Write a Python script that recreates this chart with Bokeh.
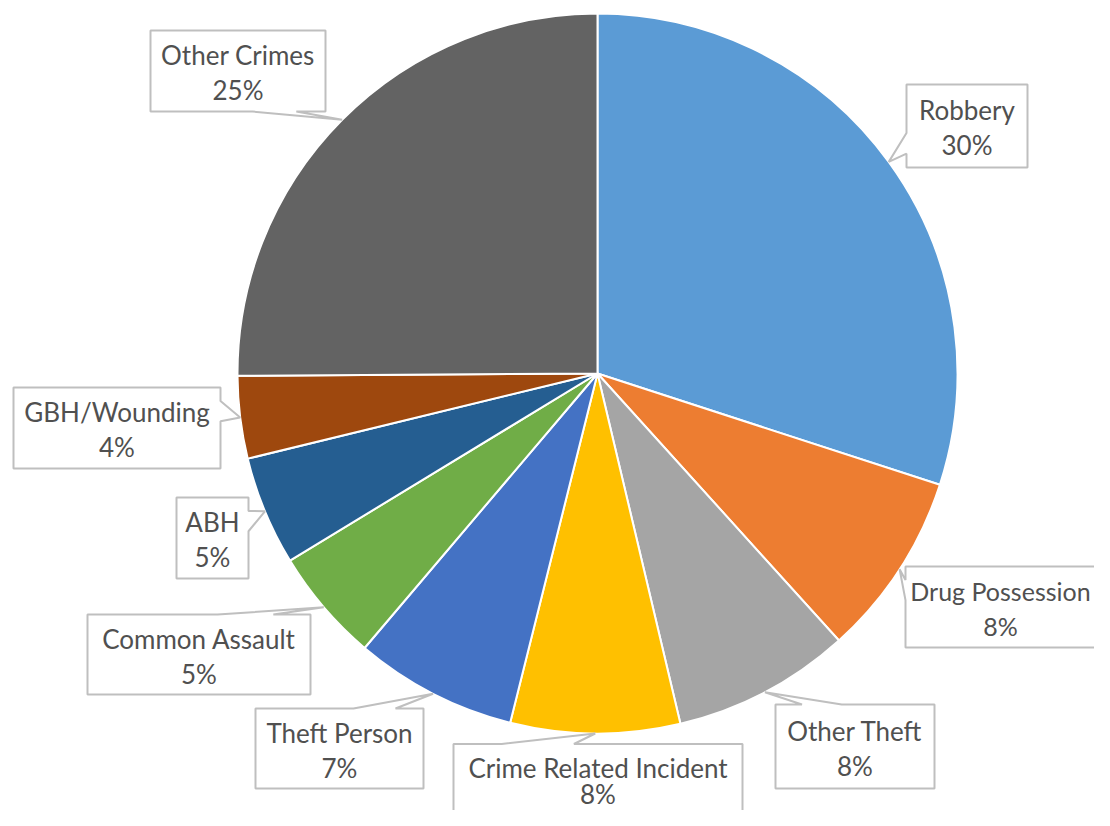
import math
from bokeh.plotting import figure
from bokeh.models import Range1d, ColumnDataSource
from bokeh.embed import file_html
from bokeh.resources import INLINE
from bokeh.core.properties import value

# ---- data ----
categories = ["Robbery", "Drug Possession", "Other Theft", "Crime Related Incident",
              "Theft Person", "Common Assault", "ABH", "GBH/Wounding", "Other Crimes"]
shares = [30.0, 8.3, 8.0, 7.6, 7.3, 5.1, 4.9, 3.7, 25.1]
colors = ["#5B9BD5", "#ED7D31", "#A5A5A5", "#FFC000", "#4472C4",
          "#70AD47", "#255E91", "#9E480E", "#636363"]

# ---- layout (picture pixels, y downward) ----
PAGE_H = 826
CX, CY, R = 597, 373, 360
# callout boxes: (center x, center y, width, height)
label_boxes = [
    (966.5, 125.5, 121, 83),
    (1016, 606.5, 222, 81),
    (854.5, 746, 159, 84),
    (597.5, 784, 289, 81),
    (339, 748, 168, 80),
    (198.5, 654, 223, 80),
    (212, 537.5, 72, 81),
    (116.5, 427.5, 207, 81),
    (237.5, 70.5, 175, 81),
]
# text centre x, and offsets of the two text lines from the box centre
text_x = [b[0] for b in label_boxes]
text_x[1] = 1000
line_offsets = [(-16, 19)] * 9
line_offsets[3] = (-17, 9)
font_sizes = ["26px"] * 9
font_sizes[1] = "25px"

FONT = "Lato"
TEXT_COLOR = "#505050"
BOX_LINE = "#BFBFBF"


def fy(py):
    return PAGE_H - py


total = sum(shares)
fracs = [s / total for s in shares]
starts, ends, mids = [], [], []
c = 0.0
for f in fracs:
    starts.append(c)
    c += f
    ends.append(c)
    mids.append(c - f / 2)

p = figure(width=1094, height=810, x_range=Range1d(0, 1094), y_range=Range1d(16, 826),
           output_backend="svg", toolbar_location=None, min_border=0,
           x_axis_location=None, y_axis_location=None,
           background_fill_color="white", border_fill_color="white")
p.grid.visible = False
p.outline_line_color = None

wedge_src = ColumnDataSource(dict(
    start=[math.pi / 2 - 2 * math.pi * s for s in starts],
    end=[math.pi / 2 - 2 * math.pi * e for e in ends],
    color=colors,
))
p.wedge(x=CX, y=fy(CY), radius=R, start_angle="start", end_angle="end",
        direction="clock", fill_color="color", line_color="white", line_width=2,
        source=wedge_src)


def callout(box, tip):
    bx, by, w, h = box
    l, r, t, b = bx - w / 2, bx + w / 2, by - h / 2, by + h / 2
    tx, ty = tip
    dx, dy = tx - bx, ty - by
    dq = dx * h / w
    dz = abs(dy) - abs(dq)
    x1 = l + w * (7 if dx > 0 else 2) / 12
    x2 = l + w * (10 if dx > 0 else 5) / 12
    y1 = t + h * (7 if dy > 0 else 2) / 12
    y2 = t + h * (10 if dy > 0 else 5) / 12
    TL, TR, BR, BL = (l, t), (r, t), (r, b), (l, b)
    if dz > 0:
        if dy < 0:
            pts = [TL, (x1, t), tip, (x2, t), TR, BR, BL]
        else:
            pts = [TL, TR, BR, (x2, b), tip, (x1, b), BL]
    else:
        if dx > 0:
            pts = [TL, TR, (r, y1), tip, (r, y2), BR, BL]
        else:
            pts = [TL, TR, BR, BL, (l, y2), tip, (l, y1)]
    return [q[0] for q in pts], [fy(q[1]) for q in pts]


xs, ys = [], []
for m, box in zip(mids, label_boxes):
    th = 2 * math.pi * m
    tip = (CX + R * math.sin(th), CY - R * math.cos(th))
    px, py = callout(box, tip)
    xs.append(px)
    ys.append(py)

p.patches(xs=xs, ys=ys, fill_color="white", line_color=BOX_LINE, line_width=2)

pct = [f"{round(f * 100)}%" for f in fracs]
txt_src = ColumnDataSource(dict(
    x=text_x,
    y1=[fy(b[1] + o[0]) for b, o in zip(label_boxes, line_offsets)],
    y2=[fy(b[1] + o[1]) for b, o in zip(label_boxes, line_offsets)],
    name=categories,
    pct=pct,
    size=font_sizes,
))
p.text(x="x", y="y1", text="name", text_font=value(FONT), text_font_size="size",
       text_color=TEXT_COLOR, text_align="center", text_baseline="middle", source=txt_src)
p.text(x="x", y="y2", text="pct", text_font=value(FONT), text_font_size="size",
       text_color=TEXT_COLOR, text_align="center", text_baseline="middle", source=txt_src)

open("out.html", "w").write(file_html(p, INLINE))
